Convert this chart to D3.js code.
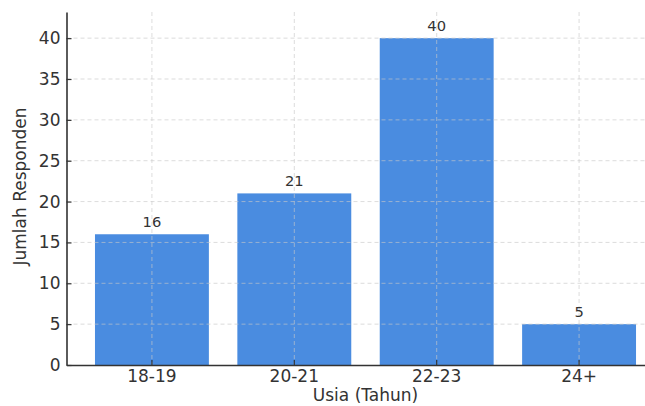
<!DOCTYPE html>
<html><head><meta charset="utf-8">
<script src="https://cdn.jsdelivr.net/npm/d3@7"></script>
<style>body{margin:0;background:#fff}svg{display:block}</style>
</head><body>
<svg id="c" width="645" height="406"></svg>
<script>
const categories = ["18-19", "20-21", "22-23", "24+"];
const values = [16, 21, 40, 5];
const yTicks = [0, 5, 10, 15, 20, 25, 30, 35, 40];
const xTitle = "Usia (Tahun)";
const yTitle = "Jumlah Responden";

(function () {
const svg = d3.select("#c");
const mL = 66.5, mR = 664.5, mT = 12, mB = 365;
const font = "DejaVu Sans, sans-serif";
const txt = "#333";

const x = d3.scaleBand().domain(categories).range([mL, mR]).paddingInner(0.2).paddingOuter(0.2);
const y = d3.scaleLinear().domain([0, 43.2]).range([mB, mT]);

// bars
svg.append("g").selectAll("rect").data(values).join("rect")
  .attr("x", (d, i) => x(categories[i]))
  .attr("width", x.bandwidth())
  .attr("y", d => y(d))
  .attr("height", d => y(0) - y(d))
  .attr("fill", "#4a8ce0");

// grid (over bars)
const grid = svg.append("g").attr("stroke", "#c8c8c8").attr("stroke-opacity", 0.8)
  .attr("stroke-dasharray", "4,3").attr("stroke-width", 0.8);
grid.selectAll(".h").data(yTicks.slice(1)).join("line").attr("class", "h")
  .attr("x1", mL).attr("x2", mR).attr("y1", d => y(d)).attr("y2", d => y(d));
grid.selectAll(".v").data(categories).join("line").attr("class", "v")
  .attr("x1", d => x(d) + x.bandwidth() / 2).attr("x2", d => x(d) + x.bandwidth() / 2)
  .attr("y1", mT).attr("y2", mB);

// value labels
svg.append("g").selectAll("text").data(values).join("text")
  .attr("x", (d, i) => x(categories[i]) + x.bandwidth() / 2)
  .attr("y", d => y(d) - 7)
  .attr("text-anchor", "middle").attr("font-family", font).attr("font-size", 14.7)
  .attr("fill", txt).text(d => d);

// axes
const yAxis = d3.axisLeft(y).tickValues(yTicks).tickSizeInner(-5).tickSizeOuter(0).tickPadding(6);
const gy = svg.append("g").attr("transform", `translate(${mL},0)`).call(yAxis);
gy.select(".domain").attr("stroke", "#333").attr("stroke-width", 1.6);
gy.selectAll(".tick line").attr("stroke", "#333").attr("stroke-width", 1.2);
gy.selectAll(".tick text").attr("font-family", font).attr("font-size", 17).attr("fill", txt);

const xAxis = d3.axisBottom(x).tickSizeInner(-5).tickSizeOuter(0).tickPadding(5);
const gx = svg.append("g").attr("transform", `translate(0,${mB})`).call(xAxis);
gx.select(".domain").attr("stroke", "#333").attr("stroke-width", 1.6);
gx.selectAll(".tick line").attr("stroke", "#333").attr("stroke-width", 1.2);
gx.selectAll(".tick text").attr("font-family", font).attr("font-size", 17).attr("fill", txt);

svg.append("text").attr("x", (mL + mR) / 2).attr("y", 401)
  .attr("text-anchor", "middle").attr("font-family", font).attr("font-size", 17)
  .attr("fill", txt).text(xTitle);
svg.append("text").attr("transform", `translate(25.5,${(mT + mB) / 2 - 2}) rotate(-90)`)
  .attr("text-anchor", "middle").attr("font-family", font).attr("font-size", 17)
  .attr("fill", txt).text(yTitle);
})();
</script>
</body></html>
